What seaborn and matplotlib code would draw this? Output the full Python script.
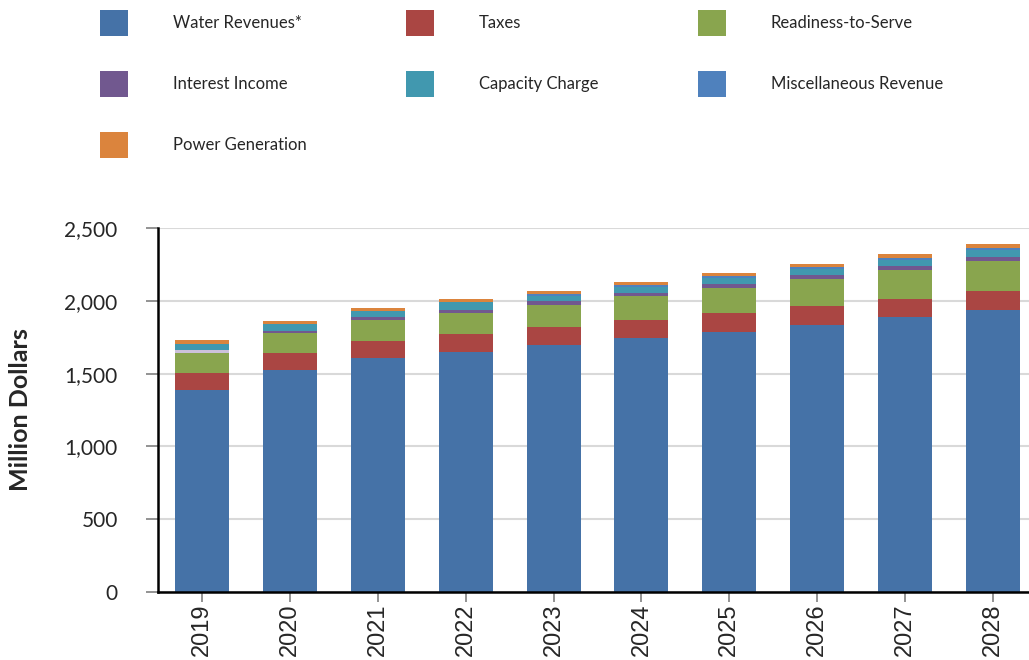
import matplotlib
matplotlib.use("Agg")
import matplotlib.pyplot as plt
from matplotlib.patches import Patch
from matplotlib.ticker import FuncFormatter
import numpy as np
import pandas as pd
import seaborn as sns

years = ['2019', '2020', '2021', '2022', '2023', '2024', '2025', '2026', '2027', '2028']
water = [1390, 1527, 1610, 1650, 1696, 1747, 1788, 1834, 1889, 1939]
taxes = [114, 114, 114, 122, 124, 121, 128, 130, 123, 128]
readiness = [137, 138, 144, 144, 151, 165, 172, 186, 199, 206]
interest = [21, 14, 21, 21, 28, 20, 27, 27, 28, 28]
capacity = [41, 46, 38, 52, 34, 42, 42, 41, 41, 48]
misc = [0, 2, 3, 3, 14, 13, 13, 14, 14, 14]
power = [28, 20, 20, 20, 20, 21, 21, 21, 27, 27]

names = ['Water Revenues*', 'Taxes', 'Readiness-to-Serve', 'Interest Income',
         'Capacity Charge', 'Miscellaneous Revenue', 'Power Generation']
colors = ['#4572A7', '#AA4643', '#89A54E', '#71588F', '#4198AF', '#4F81BD', '#DB843D']

df = pd.DataFrame({'year': years, names[0]: water, names[1]: taxes, names[2]: readiness,
                   names[3]: interest, names[4]: capacity, names[5]: misc, names[6]: power})
cum = df[names].cumsum(axis=1)
cum['year'] = df['year']

sns.set_style('white')
plt.rcParams['font.family'] = ['Lato', 'DejaVu Sans']

fig = plt.figure(figsize=(10.29, 6.6), dpi=100)
ax = fig.add_axes([158 / 1029, 68 / 660, 879 / 1029, 364 / 660])

# overlay cumulative totals from top layer down -> stacked look
for i in range(len(names) - 1, -1, -1):
    sns.barplot(data=cum, x='year', y=names[i], color=colors[i], saturation=1,
                width=0.615, linewidth=0, ax=ax, zorder=2)
    if names[i] == 'Interest Income':
        ax.containers[-1].patches[0].set_facecolor('#CCC1DA')  # 2019 shown lighter

ax.set_xlim(-0.5, 9.5)
ax.set_ylim(0, 2500)
ax.set_yticks(np.arange(0, 2501, 500))
ax.yaxis.set_major_formatter(FuncFormatter(lambda v, p: f'{v:,.0f}'))
ax.yaxis.grid(True, color='#D9D9D9', linewidth=1.5, zorder=0)
ax.set_axisbelow(True)
ax.set_xlabel('')
ax.set_ylabel('Million Dollars', fontsize=18, fontweight='bold')
ax.yaxis.set_label_coords(-0.143, 0.5)

for s in ['top', 'right']:
    ax.spines[s].set_visible(False)
for s in ['left', 'bottom']:
    ax.spines[s].set_color('black')
    ax.spines[s].set_linewidth(1.8)

ax.tick_params(axis='y', which='major', length=9, width=1.2, color='#808080',
               labelsize=15, pad=20, left=True, direction='out')
ax.tick_params(axis='x', which='major', length=7, width=1.2, color='#808080',
               labelsize=17, pad=1, bottom=True, direction='out', rotation=90)
for lab in ax.get_xticklabels():
    lab.set_fontfamily(['Liberation Sans', 'DejaVu Sans'])

order = [0, 3, 6, 1, 4, 2, 5]
handles = [Patch(facecolor=colors[i], edgecolor='none', label=names[i]) for i in order]
fig.legend(handles=handles, ncol=3, loc='upper left', bbox_to_anchor=(90 / 1029, 1.0),
           frameon=False, fontsize=12, handlelength=1.68, handleheight=2.0,
           handletextpad=2.7, columnspacing=5.95, labelspacing=2.12, borderaxespad=0.2)

fig.savefig('out.png', dpi=100)
